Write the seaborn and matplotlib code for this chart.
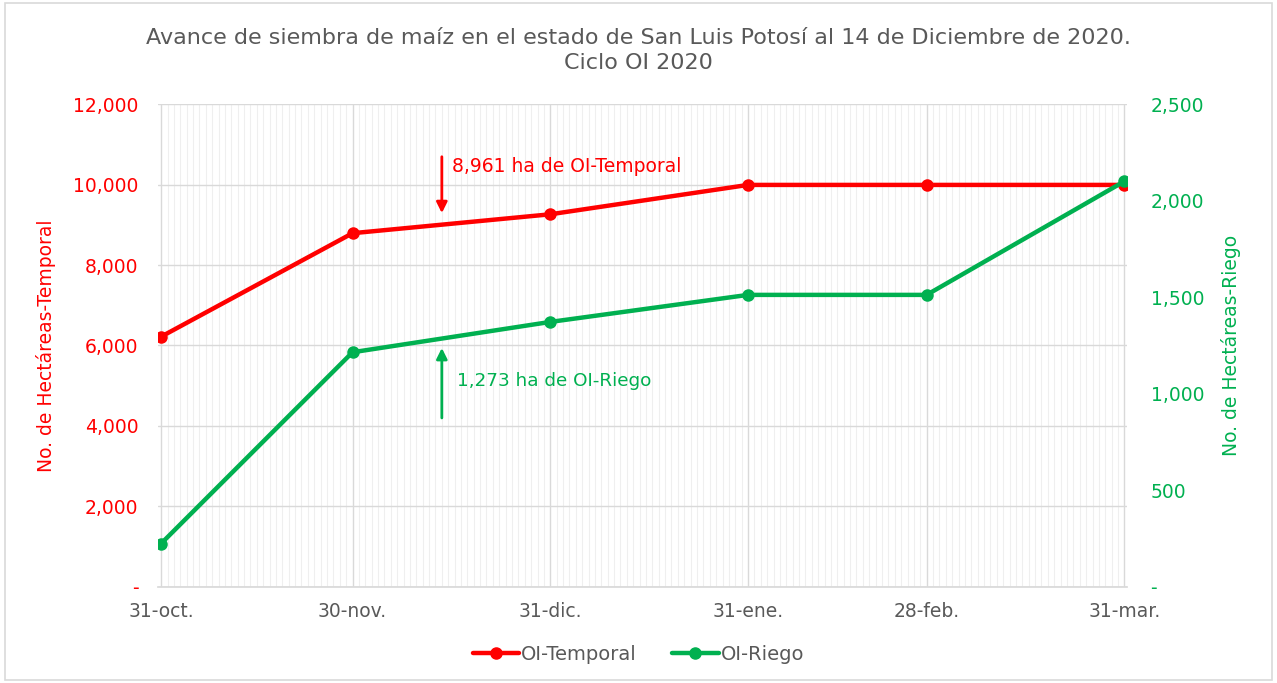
import matplotlib
matplotlib.use("Agg")
import matplotlib.pyplot as plt
import matplotlib.dates as mdates
from matplotlib.lines import Line2D
from matplotlib.patches import Rectangle
from matplotlib.ticker import FixedLocator, FuncFormatter
import seaborn as sns
import pandas as pd

# ---- data ----
dates = ["2020-10-31", "2020-11-30", "2020-12-31", "2021-01-31", "2021-02-28", "2021-03-31"]
date_labels = ["31-oct.", "30-nov.", "31-dic.", "31-ene.", "28-feb.", "31-mar."]
temporal = [6220, 8790, 9260, 9990, 9990, 9990]
riego = [225, 1215, 1372, 1512, 1512, 2100]
annot_date = "2020-12-14"
annot_temporal_text = "8,961 ha de OI-Temporal"
annot_riego_text = "1,273 ha de OI-Riego"
title = "Avance de siembra de maíz en el estado de San Luis Potosí al 14 de Diciembre de 2020.\nCiclo OI 2020"

RED = "#FF0000"
GREEN = "#00B050"
GRAY = "#595959"

sns.set_theme(style="white")
plt.rcParams["font.family"] = ["DejaVu Sans"]

df = pd.DataFrame({"fecha": pd.to_datetime(dates), "OI-Temporal": temporal, "OI-Riego": riego})

fig = plt.figure(figsize=(12.77, 6.83), dpi=100)
fig.patches.append(Rectangle((0.004, 0.004), 0.992, 0.992, transform=fig.transFigure,
                             fill=False, edgecolor="#D9D9D9", lw=1.2))
ax = fig.add_axes([0.1237, 0.1406, 0.7588, 0.7071])
ax2 = ax.twinx()

sns.lineplot(data=df, x="fecha", y="OI-Temporal", ax=ax, color=RED, lw=3.2,
             marker="o", markersize=9, markeredgewidth=0, zorder=3)
sns.lineplot(data=df, x="fecha", y="OI-Riego", ax=ax2, color=GREEN, lw=3.2,
             marker="o", markersize=9, markeredgewidth=0, zorder=3)

d0 = mdates.date2num(pd.Timestamp(dates[0])) - 0.5
d1 = mdates.date2num(pd.Timestamp(dates[-1])) + 0.4
ax.set_xlim(d0, d1)
ax.set_ylim(0, 12000)
ax2.set_ylim(0, 2500)

ax.xaxis.set_major_locator(FixedLocator(mdates.date2num(pd.to_datetime(dates))))
ax.set_xticklabels(date_labels)
ax.xaxis.set_minor_locator(mdates.DayLocator())
ax.set_yticks(range(0, 12001, 2000))
ax2.set_yticks(range(0, 2501, 500))
fmt = FuncFormatter(lambda v, p: "-" if v == 0 else f"{int(v):,}")
ax.yaxis.set_major_formatter(fmt)
ax2.yaxis.set_major_formatter(fmt)

ax.grid(which="major", axis="both", color="#D9D9D9", lw=1.0)
ax.grid(which="minor", axis="x", color="#EFEFEF", lw=0.8)
ax.set_axisbelow(True)
ax2.grid(False)

for a in (ax, ax2):
    for s in a.spines.values():
        s.set_visible(False)
ax.spines["bottom"].set_visible(True)
ax.spines["bottom"].set_color("#D9D9D9")

ax.tick_params(axis="x", which="major", colors="#D9D9D9", length=5, width=1, labelcolor=GRAY,
               labelsize=13.5, pad=6)
ax.tick_params(axis="x", which="minor", length=0)
ax.tick_params(axis="y", length=0, labelcolor=RED, labelsize=13.5, pad=14)
ax2.tick_params(axis="y", length=0, labelcolor=GREEN, labelsize=13.5, pad=17)

ax.set_xlabel("")
ax.set_ylabel("No. de Hectáreas-Temporal", color=RED, fontsize=13.5, labelpad=12)
ax2.set_ylabel("No. de Hectáreas-Riego", color=GREEN, fontsize=13.5, labelpad=12)

fig.text(0.5, 0.893, title, ha="center", va="bottom", fontsize=16, color=GRAY, linespacing=1.3)

ad = mdates.date2num(pd.Timestamp(annot_date))
ax.annotate("", xy=(ad, 9290), xytext=(ad, 10690),
            arrowprops=dict(arrowstyle="-|>", color=RED, lw=2, mutation_scale=16, shrinkA=0, shrinkB=0))
ax.text(ad + 1.6, 10440, annot_temporal_text, color=RED, fontsize=13.5, va="center", ha="left")
ax2.annotate("", xy=(ad, 1237), xytext=(ad, 875),
             arrowprops=dict(arrowstyle="-|>", color=GREEN, lw=2, mutation_scale=16, shrinkA=0, shrinkB=0))
ax2.text(ad + 2.3, 1066, annot_riego_text, color=GREEN, fontsize=13.2, va="center", ha="left")

handles = [Line2D([0], [0], color=RED, lw=3.2, marker="o", markersize=8),
           Line2D([0], [0], color=GREEN, lw=3.2, marker="o", markersize=8)]
leg = fig.legend(handles, ["OI-Temporal", "OI-Riego"], loc="center", bbox_to_anchor=(0.5, 0.042),
                 ncol=2, frameon=False, fontsize=14, handlelength=2.4, handletextpad=0.1,
                 columnspacing=1.8)
for t in leg.get_texts():
    t.set_color(GRAY)
if ax.get_legend():
    ax.get_legend().remove()

fig.savefig("out.png", dpi=100)
